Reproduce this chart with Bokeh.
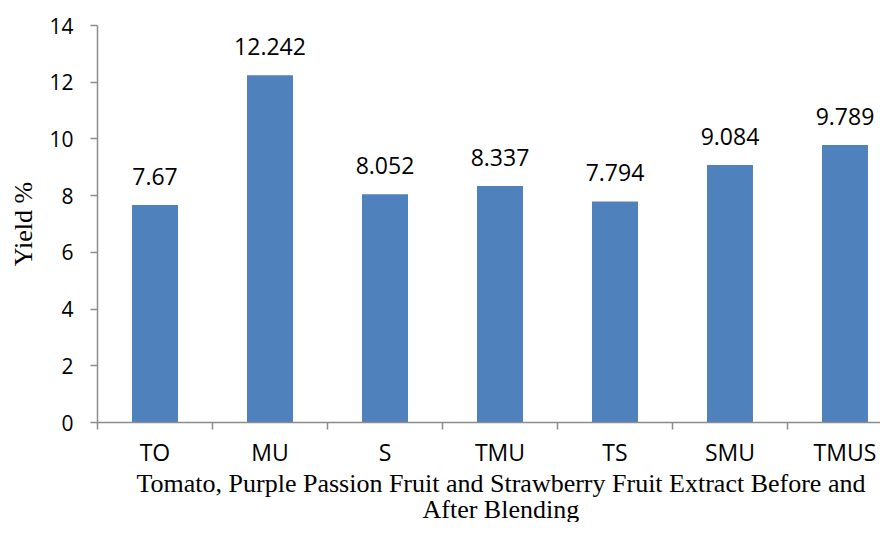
from bokeh.plotting import figure
from bokeh.models import ColumnDataSource, FixedTicker, LabelSet, Range1d, Title
from bokeh.core.properties import value
from bokeh.embed import file_html
from bokeh.resources import INLINE

categories = ["TO", "MU", "S", "TMU", "TS", "SMU", "TMUS"]
yields = [7.67, 12.242, 8.052, 8.337, 7.794, 9.084, 9.789]
value_labels = ["7.67", "12.242", "8.052", "8.337", "7.794", "9.084", "9.789"]
y_ticks = [0, 2, 4, 6, 8, 10, 12, 14]
x_title_lines = ["Tomato, Purple Passion Fruit and Strawberry Fruit Extract Before and",
                 "After Blending"]
y_title = "Yield %"

AXIS_GRAY = "#8c8c8c"
BAR_BLUE = "#4F81BD"

xs = [i + 0.5 for i in range(len(categories))]
src = ColumnDataSource(dict(x=xs, y=yields, label=value_labels))

p = figure(width=880, height=522, output_backend="svg", toolbar_location=None,
           x_range=Range1d(0, 6.809), y_range=Range1d(0, 14),
           min_border_left=97, min_border_top=25, min_border_bottom=100,
           min_border_right=0)
p.outline_line_color = None
p.xgrid.visible = False
p.ygrid.visible = False

p.vbar(x="x", top="y", bottom=0, width=0.4, source=src,
       fill_color=BAR_BLUE, line_color=None)

# x axis
xa = p.xaxis[0]
xa.ticker = FixedTicker(ticks=xs, minor_ticks=list(range(len(categories) + 1)))
xa.major_label_overrides = {x: c for x, c in zip(xs, categories)}
xa.major_tick_out = 0
xa.major_tick_in = 0
xa.minor_tick_out = 7
xa.minor_tick_in = 0
xa.minor_tick_line_color = AXIS_GRAY
xa.minor_tick_line_width = 1.5
xa.axis_line_color = AXIS_GRAY
xa.axis_line_width = 1.5
xa.major_label_text_font = "Open Sans"
xa.major_label_text_font_size = "23px"
xa.major_label_text_color = "black"
xa.major_label_standoff = 6

# y axis
ya = p.yaxis[0]
ya.ticker = FixedTicker(ticks=y_ticks, minor_ticks=[])
ya.major_tick_out = 7
ya.major_tick_in = 0
ya.major_tick_line_color = AXIS_GRAY
ya.major_tick_line_width = 1.5
ya.axis_line_color = AXIS_GRAY
ya.axis_line_width = 1.5
ya.major_label_text_font = "Open Sans"
ya.major_label_text_font_size = "21px"
ya.major_label_text_color = "black"
ya.major_label_standoff = 17
ya.axis_label = y_title
ya.axis_label_text_font = "Liberation Serif"
ya.axis_label_text_font_size = "26px"
ya.axis_label_text_font_style = "normal"
ya.axis_label_text_color = "black"
ya.axis_label_standoff = 8

labels = LabelSet(x="x", y="y", text="label", source=src, y_offset=20,
                  text_align="center", text_baseline="alphabetic",
                  text_font=value("Open Sans"), text_font_size=value("23px"),
                  text_color="black")
p.add_layout(labels)

for line, off, so in zip(x_title_lines, [39, 325], [-4, -6]):
    t = Title(text=line, align="left", offset=off, vertical_align="top",
              text_font="Liberation Serif", text_font_size="26px",
              text_font_style="normal", text_color="black",
              standoff=so)
    p.add_layout(t, "below")

open("out.html", "w").write(file_html(p, INLINE))
